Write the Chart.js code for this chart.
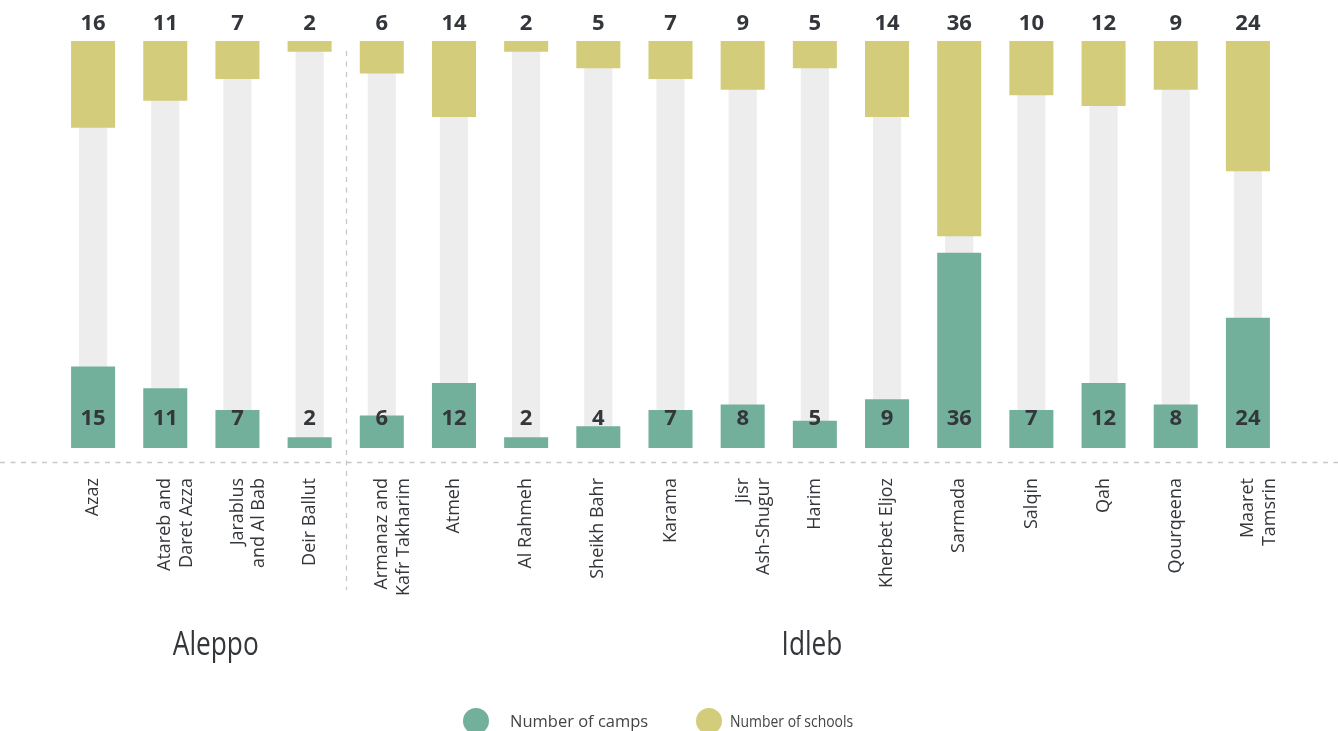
<!DOCTYPE html>
<html>
<head>
<meta charset="utf-8">
<title>Camps and schools</title>
<script src="https://cdn.jsdelivr.net/npm/chart.js@4.4.1/dist/chart.umd.min.js"></script>
<style>
    html, body { margin: 0; padding: 0; background: #fff; }
    #wrap { width: 1338px; height: 731px; position: relative; }
</style>
</head>
<body>
<div id="wrap"><canvas id="campsChart"></canvas></div>
<script>
    // data
    var districts = [
        'Azaz', ['Atareb and', 'Daret Azza'], ['Jarablus', 'and Al Bab'], 'Deir Ballut',
        ['Armanaz and', 'Kafr Takharim'], 'Atmeh', 'Al Rahmeh', 'Sheikh Bahr', 'Karama',
        ['Jisr', 'Ash-Shugur'], 'Harim', 'Kherbet Eljoz', 'Sarmada', 'Salqin', 'Qah',
        'Qourqeena', ['Maaret', 'Tamsrin']
    ];
    var camps   = [15, 11, 7, 2, 6, 12, 2, 4, 7, 8, 5, 9, 36, 7, 12, 8, 24];
    var schools = [16, 11, 7, 2, 6, 14, 2, 5, 7, 9, 5, 14, 36, 10, 12, 9, 24];
    var governorates = ['Aleppo', 'Idleb'];
    var governorateAt = [1.7, 9.96];   // category index where the name sits
    var governorateSplit = 3.5;         // between Deir Ballut and Armanaz
    var scaleMax = 75;

    var GREEN = '#73b09b', YELLOW = '#d3cc7a', GREY = '#ededed', INK = '#33363a';

    // condensed text: squeeze Open Sans horizontally
    function narrowText(ctx, text, x, y, squeeze, align) {
        ctx.save();
        ctx.translate(x, y);
        ctx.scale(squeeze, 1);
        ctx.textAlign = align;
        ctx.fillText(text, 0, 0);
        ctx.restore();
    }

    var extras = {
        id: 'extras',
        afterDatasetsDraw: function(chart) {
            var ctx = chart.ctx, x = chart.scales.x, y = chart.scales.y, area = chart.chartArea;
            ctx.save();
            ctx.fillStyle = INK;
            ctx.font = 'bold 22px "Open Sans"';
            ctx.textAlign = 'center';
            ctx.textBaseline = 'middle';
            for (var i = 0; i < districts.length; i++) {
                var px = x.getPixelForValue(i);
                ctx.fillText(String(schools[i]), px, area.top - 17);
                ctx.fillText(String(camps[i]), px, y.getPixelForValue(0) - 29);
            }
            ctx.restore();
        },
        afterDraw: function(chart) {
            var ctx = chart.ctx, x = chart.scales.x, area = chart.chartArea;
            ctx.save();
            ctx.strokeStyle = '#c8c8c8';
            ctx.lineWidth = 1.3;
            ctx.setLineDash([5, 5.5]);
            ctx.beginPath();
            ctx.moveTo(0, area.bottom + 14.5);
            ctx.lineTo(chart.width, area.bottom + 14.5);
            var sx = Math.round(x.getPixelForValue(governorateSplit)) + 0.5;
            ctx.moveTo(sx, area.top + 10);
            ctx.lineTo(sx, 590);
            ctx.stroke();
            ctx.setLineDash([]);

            ctx.fillStyle = INK;
            ctx.font = '32px "Open Sans"';
            ctx.textBaseline = 'alphabetic';
            governorates.forEach(function(name, k) {
                narrowText(ctx, name, x.getPixelForValue(governorateAt[k]), 655, 0.82, 'center');
            });

            // legend
            var items = [
                {label: chart.data.datasets[0].label, color: GREEN, cx: 476, tx: 510, squeeze: 0.97},
                {label: chart.data.datasets[1].label, color: YELLOW, cx: 709, tx: 730, squeeze: 0.82}
            ];
            items.forEach(function(it) {
                ctx.fillStyle = it.color;
                ctx.beginPath();
                ctx.arc(it.cx, 721, 13, 0, Math.PI * 2);
                ctx.fill();
                ctx.fillStyle = '#444';
                ctx.font = '17px "Open Sans"';
                narrowText(ctx, it.label, it.tx, 727, it.squeeze, 'left');
            });
            ctx.restore();
        }
    };

    var chart = new Chart(document.getElementById('campsChart'), {
        type: 'bar',
        data: {
            labels: districts,
            datasets: [
                {
                    label: 'Number of camps',
                    data: camps,
                    backgroundColor: GREEN,
                    barPercentage: 0.61,
                    categoryPercentage: 1
                },
                {
                    label: 'Number of schools',
                    data: schools.map(function(v){ return [scaleMax - v, scaleMax]; }),
                    backgroundColor: YELLOW,
                    barPercentage: 0.61,
                    categoryPercentage: 1
                },
                {
                    label: 'track',
                    data: districts.map(function(){ return [0, scaleMax]; }),
                    backgroundColor: GREY,
                    barPercentage: 0.39,
                    categoryPercentage: 1
                }
            ]
        },
        options: {
            responsive: true,
            maintainAspectRatio: false,
            animation: false,
            layout: { padding: { top: 41, left: 57, right: 54, bottom: 133 } },
            datasets: { bar: { grouped: false } },
            plugins: { legend: { display: false }, tooltip: { enabled: false } },
            scales: {
                x: {
                    grid: { display: false },
                    border: { display: false },
                    afterFit: function(scale) { scale.height = 150; },
                    ticks: {
                        autoSkip: false,
                        minRotation: 90,
                        maxRotation: 90,
                        padding: 22,
                        color: INK,
                        font: { family: 'Open Sans', size: 18 }
                    }
                },
                y: { display: false, min: 0, max: scaleMax }
            }
        },
        plugins: [extras]
    });
</script>
</body>
</html>
